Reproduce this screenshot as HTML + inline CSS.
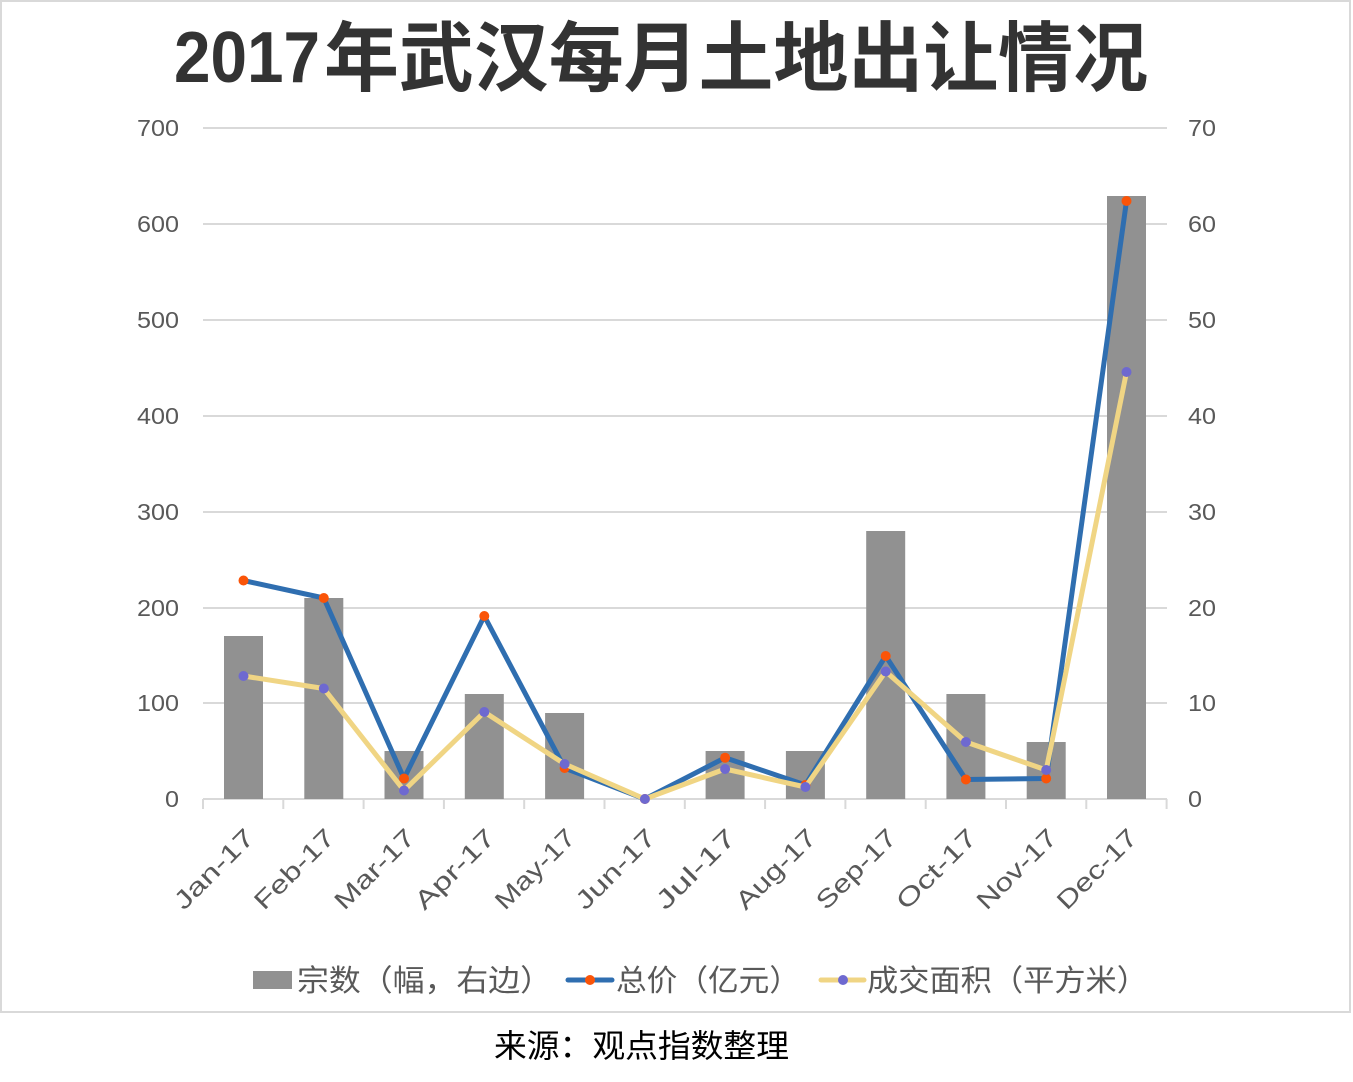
<!DOCTYPE html>
<html><head><meta charset="utf-8"><style>
html,body{margin:0;padding:0;background:#fff;}
svg{display:block;}
text{font-family:"Liberation Sans","Noto Sans CJK SC",sans-serif;}
</style></head><body>
<svg width="1353" height="1082" viewBox="0 0 1353 1082" xmlns="http://www.w3.org/2000/svg">
<rect x="0" y="0" width="1353" height="1082" fill="#fff"/>
<rect x="1" y="1" width="1349" height="1011" fill="#fff" stroke="#d9d9d9" stroke-width="2"/>
<!-- title -->
<text y="82" font-size="72" font-weight="bold" fill="#333"><tspan x="174" textLength="146" lengthAdjust="spacingAndGlyphs">2017</tspan></text>
<text y="85" font-size="76" font-weight="bold" fill="#333" font-family="'Noto Sans CJK SC',sans-serif"><tspan x="324" textLength="824" lengthAdjust="spacingAndGlyphs">年武汉每月土地出让情况</tspan></text>
<!-- gridlines -->
<g stroke="#d9d9d9" stroke-width="2">
<line x1="203" x2="1167" y1="128" y2="128"/>
<line x1="203" x2="1167" y1="224" y2="224"/>
<line x1="203" x2="1167" y1="320" y2="320"/>
<line x1="203" x2="1167" y1="416" y2="416"/>
<line x1="203" x2="1167" y1="512" y2="512"/>
<line x1="203" x2="1167" y1="608" y2="608"/>
<line x1="203" x2="1167" y1="703" y2="703"/>
<line x1="203" x2="1167" y1="799" y2="799"/>
<line x1="203" x2="203" y1="799" y2="809"/>
<line x1="283.3" x2="283.3" y1="799" y2="809"/>
<line x1="363.6" x2="363.6" y1="799" y2="809"/>
<line x1="443.9" x2="443.9" y1="799" y2="809"/>
<line x1="524.2" x2="524.2" y1="799" y2="809"/>
<line x1="604.5" x2="604.5" y1="799" y2="809"/>
<line x1="684.8" x2="684.8" y1="799" y2="809"/>
<line x1="765.1" x2="765.1" y1="799" y2="809"/>
<line x1="845.4" x2="845.4" y1="799" y2="809"/>
<line x1="925.7" x2="925.7" y1="799" y2="809"/>
<line x1="1006" x2="1006" y1="799" y2="809"/>
<line x1="1086.3" x2="1086.3" y1="799" y2="809"/>
<line x1="1166.6" x2="1166.6" y1="799" y2="809"/>
</g>
<!-- left labels -->
<g font-size="23" fill="#595959" text-anchor="end">
<text x="179" y="136" textLength="42" lengthAdjust="spacingAndGlyphs">700</text>
<text x="179" y="232" textLength="42" lengthAdjust="spacingAndGlyphs">600</text>
<text x="179" y="328" textLength="42" lengthAdjust="spacingAndGlyphs">500</text>
<text x="179" y="424" textLength="42" lengthAdjust="spacingAndGlyphs">400</text>
<text x="179" y="520" textLength="42" lengthAdjust="spacingAndGlyphs">300</text>
<text x="179" y="616" textLength="42" lengthAdjust="spacingAndGlyphs">200</text>
<text x="179" y="711" textLength="42" lengthAdjust="spacingAndGlyphs">100</text>
<text x="179" y="807" textLength="14" lengthAdjust="spacingAndGlyphs">0</text>
</g>
<!-- right labels -->
<g font-size="23" fill="#595959">
<text x="1188" y="136" textLength="28" lengthAdjust="spacingAndGlyphs">70</text>
<text x="1188" y="232" textLength="28" lengthAdjust="spacingAndGlyphs">60</text>
<text x="1188" y="328" textLength="28" lengthAdjust="spacingAndGlyphs">50</text>
<text x="1188" y="424" textLength="28" lengthAdjust="spacingAndGlyphs">40</text>
<text x="1188" y="520" textLength="28" lengthAdjust="spacingAndGlyphs">30</text>
<text x="1188" y="616" textLength="28" lengthAdjust="spacingAndGlyphs">20</text>
<text x="1188" y="711" textLength="28" lengthAdjust="spacingAndGlyphs">10</text>
<text x="1188" y="807" textLength="14" lengthAdjust="spacingAndGlyphs">0</text>
</g>
<!-- bars -->
<g fill="#919191">
<rect x="224" y="636" width="39" height="163"/>
<rect x="304.3" y="598" width="39" height="201"/>
<rect x="384.5" y="751" width="39" height="48"/>
<rect x="464.8" y="694" width="39" height="105"/>
<rect x="545.1" y="713" width="39" height="86"/>
<rect x="705.6" y="751" width="39" height="48"/>
<rect x="785.9" y="751" width="39" height="48"/>
<rect x="866.2" y="531" width="39" height="268"/>
<rect x="946.4" y="694" width="39" height="105"/>
<rect x="1026.7" y="742" width="39" height="57"/>
<rect x="1107" y="196" width="39" height="603"/>
</g>
<!-- blue line -->
<polyline fill="none" stroke="#2F6EB0" stroke-width="5" stroke-linejoin="round" points="243.5,580.5 323.8,598 404,778.5 484.3,616 564.6,768 644.9,799 725.1,757.7 805.4,785 885.7,656 965.9,779.5 1046.2,778.5 1126.5,201"/>
<g fill="#FA5408">
<circle cx="243.5" cy="580.5" r="5"/><circle cx="323.8" cy="598" r="5"/><circle cx="404" cy="778.5" r="5"/><circle cx="484.3" cy="616" r="5"/><circle cx="564.6" cy="768" r="5"/><circle cx="644.9" cy="799" r="5"/><circle cx="725.1" cy="757.7" r="5"/><circle cx="805.4" cy="785" r="5"/><circle cx="885.7" cy="656" r="5"/><circle cx="965.9" cy="779.5" r="5"/><circle cx="1046.2" cy="778.5" r="5"/><circle cx="1126.5" cy="201" r="5"/>
</g>
<!-- yellow line -->
<polyline fill="none" stroke="#F0D584" stroke-width="5" stroke-linejoin="round" points="243.5,676 323.8,688.5 404,790.5 484.3,712 564.6,764 644.9,799 725.1,769 805.4,787 885.7,671.5 965.9,742 1046.2,770 1126.5,372"/>
<g fill="#6E69D0">
<circle cx="243.5" cy="676" r="5"/><circle cx="323.8" cy="688.5" r="5"/><circle cx="404" cy="790.5" r="5"/><circle cx="484.3" cy="712" r="5"/><circle cx="564.6" cy="764" r="5"/><circle cx="644.9" cy="799" r="5"/><circle cx="725.1" cy="769" r="5"/><circle cx="805.4" cy="787" r="5"/><circle cx="885.7" cy="671.5" r="5"/><circle cx="965.9" cy="742" r="5"/><circle cx="1046.2" cy="770" r="5"/><circle cx="1126.5" cy="372" r="5"/>
</g>
<!-- x labels -->
<g font-size="25" fill="#595959" text-anchor="end">
<text transform="translate(256,839) rotate(-45)" textLength="102" lengthAdjust="spacingAndGlyphs">Jan-17</text>
<text transform="translate(336.3,839) rotate(-45)" textLength="102" lengthAdjust="spacingAndGlyphs">Feb-17</text>
<text transform="translate(416.5,839) rotate(-45)" textLength="102" lengthAdjust="spacingAndGlyphs">Mar-17</text>
<text transform="translate(496.8,839) rotate(-45)" textLength="102" lengthAdjust="spacingAndGlyphs">Apr-17</text>
<text transform="translate(577.1,839) rotate(-45)" textLength="102" lengthAdjust="spacingAndGlyphs">May-17</text>
<text transform="translate(657.4,839) rotate(-45)" textLength="102" lengthAdjust="spacingAndGlyphs">Jun-17</text>
<text transform="translate(737.6,839) rotate(-45)" textLength="102" lengthAdjust="spacingAndGlyphs">Jul-17</text>
<text transform="translate(817.9,839) rotate(-45)" textLength="102" lengthAdjust="spacingAndGlyphs">Aug-17</text>
<text transform="translate(898.2,839) rotate(-45)" textLength="102" lengthAdjust="spacingAndGlyphs">Sep-17</text>
<text transform="translate(978.4,839) rotate(-45)" textLength="102" lengthAdjust="spacingAndGlyphs">Oct-17</text>
<text transform="translate(1058.7,839) rotate(-45)" textLength="102" lengthAdjust="spacingAndGlyphs">Nov-17</text>
<text transform="translate(1139,839) rotate(-45)" textLength="102" lengthAdjust="spacingAndGlyphs">Dec-17</text>
</g>
<!-- legend -->
<rect x="253" y="971" width="39" height="18" fill="#919191"/>
<g font-size="30" fill="#595959" font-family="'Noto Sans CJK SC',sans-serif">
<text x="297" y="991" textLength="255" lengthAdjust="spacingAndGlyphs">宗数（幅，右边）</text>
<text x="616" y="991" textLength="184" lengthAdjust="spacingAndGlyphs">总价（亿元）</text>
<text x="867" y="991" textLength="281" lengthAdjust="spacingAndGlyphs">成交面积（平方米）</text>
</g>
<line x1="568" x2="612" y1="980" y2="980" stroke="#2F6EB0" stroke-width="5" stroke-linecap="round"/>
<circle cx="590" cy="980" r="5" fill="#FA5408"/>
<line x1="821" x2="864" y1="980" y2="980" stroke="#F0D584" stroke-width="5" stroke-linecap="round"/>
<circle cx="843" cy="980" r="5" fill="#6E69D0"/>
<!-- source -->
<text x="494" y="1057" font-size="32" fill="#000" font-family="'Noto Sans CJK SC',sans-serif" textLength="295" lengthAdjust="spacingAndGlyphs">来源：观点指数整理</text>
</svg>
</body></html>
